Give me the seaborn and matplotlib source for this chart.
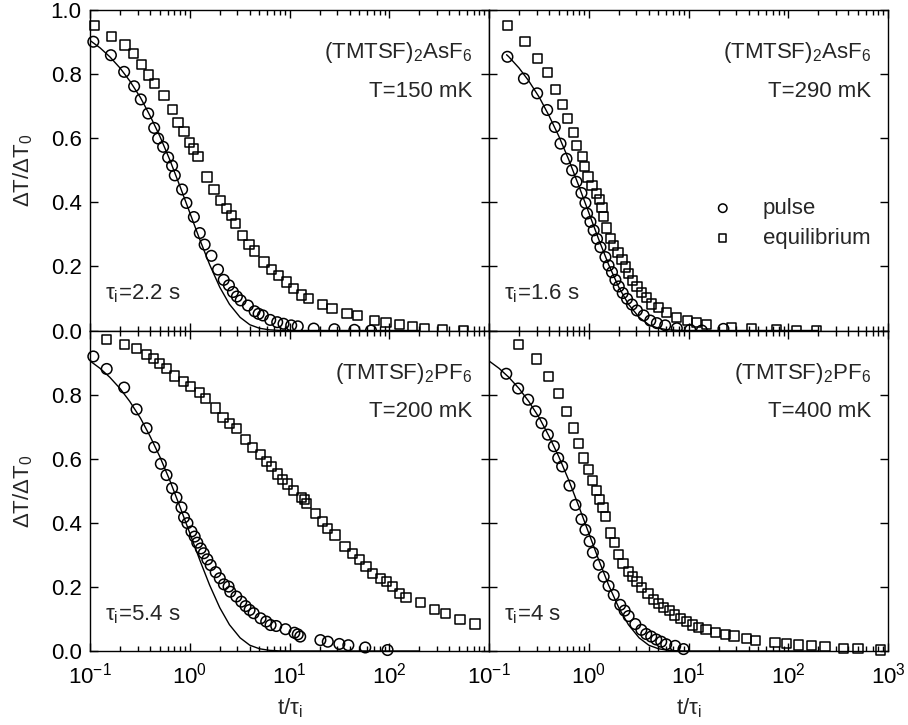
import numpy as np
import matplotlib
matplotlib.use("Agg")
import matplotlib.pyplot as plt
import seaborn as sns
from matplotlib.ticker import LogLocator, LogFormatterMathtext, NullFormatter, MultipleLocator

# ---- data (x = t/tau_i, y = dT/dT0) ----
# top-left: (TMTSF)2AsF6, T=150 mK
tl_pulse_x = [0.108, 0.162, 0.220, 0.277, 0.323, 0.383, 0.440, 0.482, 0.541, 0.607, 0.665, 0.708,
              0.838, 0.926, 1.10, 1.26, 1.41, 1.65, 1.92, 2.19, 2.47, 2.71, 2.97, 3.24, 3.83,
              4.47, 4.90, 5.41, 6.41, 7.53, 8.71, 10.4, 12.1, 17.5, 28.2, 44.7, 65.6]
tl_pulse_y = [0.901, 0.859, 0.807, 0.762, 0.721, 0.677, 0.632, 0.599, 0.573, 0.540, 0.514, 0.484,
              0.440, 0.398, 0.354, 0.304, 0.268, 0.233, 0.190, 0.158, 0.141, 0.120, 0.106, 0.094, 0.078,
              0.060, 0.052, 0.047, 0.033, 0.026, 0.021, 0.016, 0.013, 0.006, 0.004, 0.002, 0.0]
tl_eq_x = [0.110, 0.165, 0.224, 0.275, 0.329, 0.383, 0.447, 0.553, 0.671, 0.764, 0.877, 1.0, 1.10,
           1.21, 1.49, 1.75, 2.04, 2.33, 2.61, 2.88, 3.37, 3.92, 4.47, 5.54, 6.56, 7.76, 9.26, 11.0,
           13.1, 15.6, 21.5, 26.7, 37.8, 48.2, 70.8, 92.6, 126, 171, 224, 341, 553]
tl_eq_y = [0.951, 0.917, 0.891, 0.865, 0.830, 0.797, 0.771, 0.734, 0.690, 0.648, 0.622, 0.586, 0.566,
           0.542, 0.479, 0.440, 0.406, 0.380, 0.359, 0.335, 0.297, 0.268, 0.248, 0.214, 0.190, 0.172,
           0.151, 0.130, 0.111, 0.101, 0.081, 0.068, 0.052, 0.047, 0.031, 0.026, 0.019, 0.0125, 0.007,
           0.003, 0.0]

# top-right: (TMTSF)2AsF6, T=290 mK
tr_pulse_x = [0.153, 0.224, 0.304, 0.383, 0.457, 0.521, 0.598, 0.681, 0.753, 0.845, 0.926, 0.962,
              1.04, 1.12, 1.21, 1.31, 1.47, 1.58, 1.71, 1.85, 2.0, 2.19, 2.42, 2.71, 3.04, 3.55,
              4.14, 4.82, 5.84, 7.64, 10.4, 13.6, 22.4]
tr_pulse_y = [0.854, 0.786, 0.740, 0.688, 0.635, 0.583, 0.536, 0.500, 0.464, 0.429, 0.398, 0.365,
              0.339, 0.3125, 0.286, 0.260, 0.229, 0.203, 0.182, 0.158, 0.1375, 0.117, 0.099, 0.081,
              0.0625, 0.047, 0.031, 0.023, 0.016, 0.007, 0.002, 0.0, 0.005]
tr_eq_x = [0.153, 0.229, 0.304, 0.383, 0.464, 0.541, 0.607, 0.697, 0.753, 0.858, 0.912, 0.985, 1.08,
           1.19, 1.29, 1.36, 1.41, 1.52, 1.65, 1.78, 1.96, 2.15, 2.33, 2.51, 2.77, 3.04, 3.41, 3.77,
           4.23, 5.01, 6.07, 7.64, 9.77, 12.1, 15.2, 27.1, 43.0, 76.4, 121, 192]
tr_eq_y = [0.951, 0.901, 0.849, 0.804, 0.752, 0.705, 0.661, 0.618, 0.576, 0.544, 0.5125, 0.479, 0.453,
           0.427, 0.408, 0.385, 0.356, 0.320, 0.286, 0.266, 0.243, 0.222, 0.198, 0.179, 0.156, 0.1375,
           0.118, 0.102, 0.083, 0.071, 0.055, 0.040, 0.031, 0.024, 0.019, 0.010, 0.005, 0.002, 0.0, 0.0]

# bottom-left: (TMTSF)2PF6, T=200 mK
bl_pulse_x = [0.108, 0.147, 0.220, 0.293, 0.369, 0.440, 0.513, 0.585, 0.665, 0.736, 0.826, 0.877,
              0.948, 1.04, 1.12, 1.19, 1.29, 1.38, 1.50, 1.62, 1.82, 2.0, 2.20, 2.45, 2.55, 2.93,
              3.29, 3.63, 3.98, 4.37, 5.13, 5.84, 6.46, 7.36, 9.12, 11.2, 12.1, 12.8, 20.4, 24.2,
              31.6, 38.9, 57.5, 96.2]
bl_pulse_y = [0.919, 0.880, 0.822, 0.754, 0.695, 0.636, 0.584, 0.549, 0.508, 0.479, 0.448, 0.417,
              0.399, 0.373, 0.357, 0.338, 0.320, 0.305, 0.286, 0.268, 0.246, 0.227, 0.208, 0.201, 0.185,
              0.170, 0.154, 0.140, 0.128, 0.118, 0.102, 0.092, 0.081, 0.078, 0.068, 0.057, 0.052, 0.045,
              0.034, 0.029, 0.022, 0.018, 0.011, 0.003]
bl_eq_x = [0.147, 0.220, 0.293, 0.369, 0.430, 0.494, 0.585, 0.708, 0.858, 1.02, 1.26, 1.43, 1.81,
           2.15, 2.51, 2.93, 3.63, 4.23, 5.13, 5.84, 6.65, 7.64, 8.45, 9.48, 11.0, 13.1, 14.1, 14.9,
           18.2, 21.5, 24.2, 28.6, 36.0, 43.0, 50.1, 58.4, 68.1, 81.3, 94.0, 108, 126, 147, 207, 282,
           369, 513, 725]
bl_eq_y = [0.971, 0.957, 0.943, 0.926, 0.912, 0.898, 0.882, 0.858, 0.841, 0.825, 0.806, 0.787, 0.758,
           0.728, 0.709, 0.695, 0.659, 0.635, 0.612, 0.591, 0.575, 0.552, 0.536, 0.521, 0.500, 0.479,
           0.473, 0.461, 0.430, 0.404, 0.383, 0.362, 0.326, 0.305, 0.286, 0.263, 0.242, 0.227, 0.216,
           0.201, 0.180, 0.166, 0.151, 0.130, 0.118, 0.099, 0.084]

# bottom-right: (TMTSF)2PF6, T=400 mK
br_pulse_x = [0.149, 0.196, 0.247, 0.293, 0.336, 0.389, 0.447, 0.494, 0.541, 0.641, 0.736, 0.845,
              0.926, 1.02, 1.10, 1.26, 1.41, 1.58, 1.78, 2.07, 2.29, 2.51, 2.93, 3.37, 3.77, 4.23,
              4.75, 5.33, 5.98, 7.36, 8.91]
br_pulse_y = [0.865, 0.819, 0.784, 0.748, 0.711, 0.675, 0.639, 0.602, 0.576, 0.516, 0.456, 0.411,
              0.378, 0.342, 0.307, 0.269, 0.232, 0.203, 0.175, 0.144, 0.126, 0.109, 0.084, 0.066,
              0.053, 0.045, 0.036, 0.029, 0.021, 0.016, 0.006]
br_eq_x = [0.196, 0.297, 0.392, 0.494, 0.598, 0.697, 0.794, 0.891, 1.0, 1.10, 1.19, 1.29, 1.39, 1.47,
           1.65, 1.81, 2.0, 2.20, 2.51, 2.75, 3.04, 3.41, 3.92, 4.47, 5.01, 5.62, 6.41, 7.24, 8.25,
           9.62, 11.0, 12.6, 15.0, 18.8, 23.6, 28.6, 38.3, 47.1, 73.6, 96.2, 126, 171, 233, 355, 501,
           845]
br_eq_y = [0.956, 0.911, 0.857, 0.803, 0.748, 0.696, 0.647, 0.602, 0.566, 0.531, 0.500, 0.472, 0.448,
           0.420, 0.368, 0.339, 0.302, 0.274, 0.248, 0.232, 0.217, 0.198, 0.180, 0.161, 0.149, 0.136,
           0.126, 0.1125, 0.102, 0.092, 0.081, 0.074, 0.068, 0.058, 0.052, 0.047, 0.040, 0.032, 0.026,
           0.024, 0.019, 0.017, 0.0135, 0.008, 0.008, 0.003]

# fitted curve (same shape in every panel)
fit_x = [0.1, 0.126, 0.158, 0.2, 0.25, 0.32, 0.4, 0.5, 0.63, 0.8, 1.0, 1.26, 1.58, 2.0, 2.5, 3.2,
         4.0, 5.0, 6.3, 8.0, 10, 30, 100, 200]
fit_y = [0.905, 0.882, 0.854, 0.819, 0.779, 0.727, 0.670, 0.607, 0.533, 0.449, 0.368, 0.284, 0.206,
         0.135, 0.082, 0.041, 0.018, 0.007, 0.002, 0.0003, 0.0, 0.0, 0.0, 0.0]
fit_start = [0.1, 0.15, 0.1, 0.1]

compounds = ["(TMTSF)$_2$AsF$_6$", "(TMTSF)$_2$AsF$_6$", "(TMTSF)$_2$PF$_6$", "(TMTSF)$_2$PF$_6$"]
temps = ["T=150 mK", "T=290 mK", "T=200 mK", "T=400 mK"]
taus = ["2.2 s", "1.6 s", "5.4 s", "4 s"]

FS = 16

sns.set_theme(style="ticks")
plt.rcParams["font.family"] = ["Liberation Sans", "DejaVu Sans"]
plt.rcParams["mathtext.fontset"] = "custom"
plt.rcParams["mathtext.rm"] = "Liberation Sans"
plt.rcParams["mathtext.it"] = "Liberation Sans:italic"
plt.rcParams["mathtext.bf"] = "Liberation Sans:bold"
plt.rcParams["axes.unicode_minus"] = False
plt.rcParams["axes.linewidth"] = 1.0
plt.rcParams["axes.edgecolor"] = "black"


def draw_panel(ax, px, py, ex, ey, start, compound, temp, tau, with_label=False):
    fx = [x for x in fit_x if x >= start]
    fy = [y for x, y in zip(fit_x, fit_y) if x >= start]
    if start not in fx:
        fx = [start] + fx
        fy = [float(np.interp(np.log10(start), np.log10(fit_x), fit_y))] + fy
    sns.lineplot(x=fx, y=fy, color="black", linewidth=1.0, sort=False, estimator=None, ax=ax)
    sns.scatterplot(x=px, y=py, marker="o", s=58, facecolor="none", edgecolor="black",
                    linewidth=1.1, clip_on=False, zorder=3, ax=ax,
                    label="pulse" if with_label else None)
    sns.scatterplot(x=ex, y=ey, marker="s", s=44, facecolor="none", edgecolor="black",
                    linewidth=1.1, clip_on=False, zorder=3, ax=ax,
                    label="equilibrium" if with_label else None)
    ax.text(0.958, 0.85, compound, transform=ax.transAxes, ha="right", va="baseline", fontsize=FS)
    ax.text(0.958, 0.73, temp, transform=ax.transAxes, ha="right", va="baseline", fontsize=FS)
    ax.text(0.037, 0.097, "τ$_{\\rm i}$=" + tau, transform=ax.transAxes, ha="left",
            va="baseline", fontsize=FS)


fig, axes = plt.subplots(2, 2, figsize=(9.08, 7.25), dpi=100)
fig.subplots_adjust(left=90 / 908, right=888 / 908, top=1 - 10 / 725, bottom=1 - 651 / 725,
                    wspace=0, hspace=0)

panels = [
    (tl_pulse_x, tl_pulse_y, tl_eq_x, tl_eq_y),
    (tr_pulse_x, tr_pulse_y, tr_eq_x, tr_eq_y),
    (bl_pulse_x, bl_pulse_y, bl_eq_x, bl_eq_y),
    (br_pulse_x, br_pulse_y, br_eq_x, br_eq_y),
]

for i, ax in enumerate(axes.flat):
    px, py, ex, ey = panels[i]
    draw_panel(ax, px, py, ex, ey, fit_start[i], compounds[i], temps[i], taus[i], with_label=(i == 1))
    ax.set_xscale("log")
    ax.set_xlim(0.1, 1000)
    ax.set_ylim(0, 1.0)
    ax.xaxis.set_major_locator(LogLocator(base=10, numticks=10))
    ax.xaxis.set_minor_locator(LogLocator(base=10, subs=np.arange(2, 10), numticks=10))
    ax.yaxis.set_major_locator(MultipleLocator(0.2))
    ax.tick_params(which="both", direction="in", top=True, right=True, bottom=True, left=True,
                   colors="black", labelsize=FS, width=1.0)
    ax.tick_params(which="major", length=6)
    ax.tick_params(which="minor", length=3.5)
    ax.tick_params(axis="x", which="major", pad=8)
    ax.tick_params(axis="y", which="major", pad=6)
    ax.set_xlabel("")
    ax.set_ylabel("")
    row, col = divmod(i, 2)
    if row == 0:
        ax.xaxis.set_major_formatter(NullFormatter())
    else:
        ax.xaxis.set_major_formatter(LogFormatterMathtext())
        ax.set_xlabel("t/τ$_{\\rm i}$", fontsize=FS, labelpad=6)
    ax.xaxis.set_minor_formatter(NullFormatter())
    if col == 1:
        ax.set_yticklabels([])
    else:
        ax.yaxis.set_major_formatter(plt.FuncFormatter(lambda v, p: f"{v:.1f}"))

# hide the duplicated labels on shared edges
axes[1, 0].set_yticks([0, 0.2, 0.4, 0.6, 0.8])
axes[1, 0].set_ylim(0, 1.0)
axes[1, 0].set_xticks([0.1, 1, 10, 100])
axes[1, 0].set_xlim(0.1, 1000)

for ax in axes.flat:
    if ax.get_legend() is not None:
        ax.get_legend().remove()

axes[0, 1].legend(loc="center left", bbox_to_anchor=(0.558, 0.334), frameon=False, fontsize=FS,
                  handletextpad=1.3, labelspacing=0.4, borderpad=0, borderaxespad=0,
                  markerscale=0.8, handlelength=1.0)

for yc in (170, 491):
    fig.text(23 / 908, 1 - yc / 725, "ΔT/ΔT$_0$", rotation=90, ha="center", va="center", fontsize=FS)

fig.savefig("out.png", dpi=100)
